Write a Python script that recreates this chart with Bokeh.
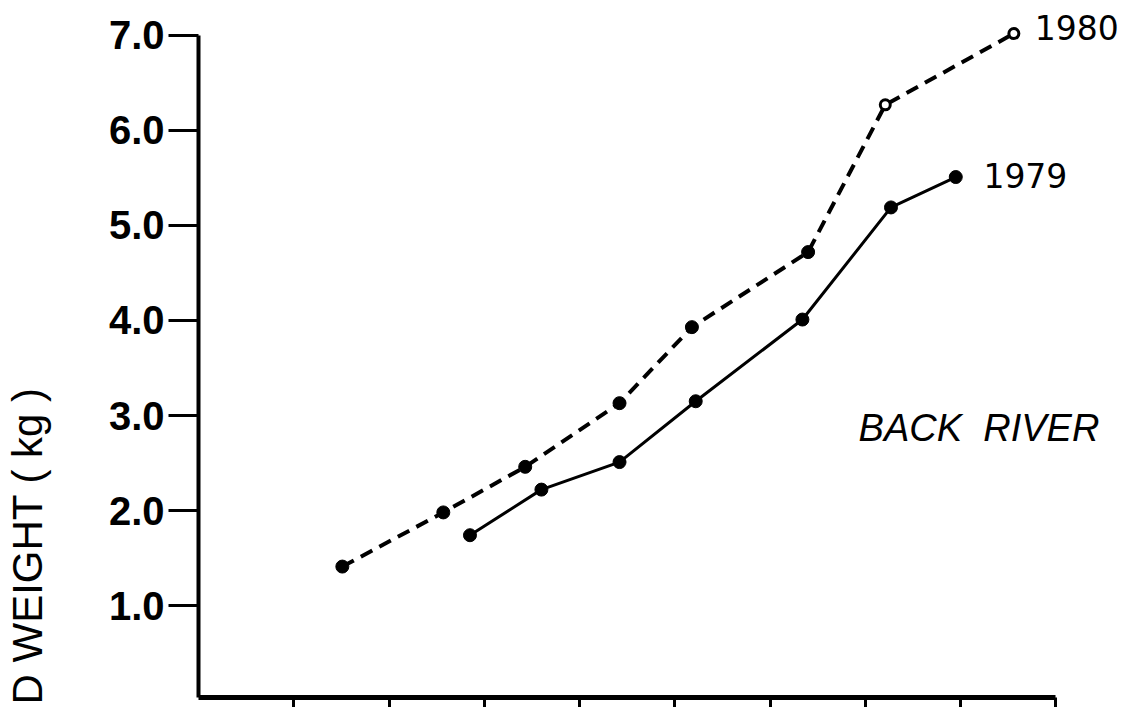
from bokeh.plotting import figure
from bokeh.models import Range1d, FixedTicker
from bokeh.core.properties import value
from bokeh.embed import file_html
from bokeh.resources import INLINE

# ---- data ----
x_1980 = [1.51, 2.57, 3.43, 4.42, 5.18, 6.40, 7.21, 8.56]
w_1980 = [1.41, 1.98, 2.46, 3.13, 3.93, 4.72, 6.27, 7.02]
x_1979 = [2.85, 3.60, 4.42, 5.22, 6.34, 7.27, 7.95]
w_1979 = [1.74, 2.22, 2.51, 3.15, 4.01, 5.19, 5.51]
y_ticks = [1, 2, 3, 4, 5, 6, 7]
y_tick_labels = ["1.0", "2.0", "3.0", "4.0", "5.0", "6.0", "7.0"]
x_ticks = [1, 2, 3, 4, 5, 6, 7, 8, 9]
series_names = ["1980", "1979"]
y_title = "D WEIGHT ( kg )"
site = "BACK  RIVER"

NBSP = "\u00a0"

p = figure(width=1121, height=707, output_backend="svg", toolbar_location=None,
           x_range=Range1d(0, 9.69), y_range=Range1d(0.032, 7.368),
           min_border_left=198, min_border_right=0, min_border_top=0,
           min_border_bottom=10)
p.outline_line_color = None
p.grid.visible = False
p.background_fill_color = "white"
p.border_fill_color = "white"

# y axis
ya = p.yaxis[0]
ya.ticker = FixedTicker(ticks=y_ticks)
ya.major_label_overrides = {t: lab for t, lab in zip(y_ticks, y_tick_labels)}
ya.bounds = (0.032, 7.0)
ya.axis_line_width = 4
ya.axis_line_color = "black"
ya.major_tick_line_width = 3
ya.major_tick_out = 30
ya.major_tick_in = 0
ya.minor_tick_line_color = None
ya.major_label_standoff = 4
ya.major_label_text_font = "Liberation Sans"
ya.major_label_text_font_style = "bold"
ya.major_label_text_font_size = "40px"
ya.major_label_text_color = "black"
# leading non-breaking spaces lift the title up the axis, as in the original
ya.axis_label = NBSP * 26 + y_title
ya.axis_label_text_font = "Liberation Sans"
ya.axis_label_text_font_style = "normal"
ya.axis_label_text_font_size = "42px"
ya.axis_label_text_color = "black"
ya.axis_label_standoff = 55
try:
    ya.axis_label_align = "start"
except Exception:
    pass

# x axis
xa = p.xaxis[0]
xa.ticker = FixedTicker(ticks=x_ticks)
xa.bounds = (0, 9.0)
xa.axis_line_width = 5
xa.axis_line_color = "black"
xa.major_tick_line_width = 3
xa.major_tick_out = 10
xa.major_tick_in = 0
xa.minor_tick_line_color = None
xa.major_label_text_font_size = "0px"
xa.major_label_standoff = 0
xa.major_label_overrides = {t: "" for t in x_ticks}

# series lines
p.line(x_1980, w_1980, line_color="black", line_width=4, line_dash="13 8")
p.line(x_1979, w_1979, line_color="black", line_width=3)

# markers
p.scatter(x_1980[:-2], w_1980[:-2], size=13, color="black")
p.scatter(x_1980[-2:], w_1980[-2:], size=10, fill_color="white", line_color="black", line_width=3)
p.scatter(x_1979, w_1979, size=13, color="black")

# series labels
p.text([x_1980[-1] + 0.22], [w_1980[-1] + 0.06], text=[series_names[0]],
       text_font=value("DejaVu Sans"), text_font_size="33px",
       text_baseline="middle", text_align="left", text_color="black")
p.text([x_1979[-1] + 0.29], [w_1979[-1] + 0.02], text=[series_names[1]],
       text_font=value("DejaVu Sans"), text_font_size="33px",
       text_baseline="middle", text_align="left", text_color="black")

# site label
p.text([6.93], [2.87], text=[site.replace(" ", NBSP)], text_font=value("Liberation Sans"),
       text_font_style="italic", text_font_size="38px",
       text_baseline="middle", text_align="left", text_color="black")

open("out.html", "w").write(file_html(p, INLINE))
